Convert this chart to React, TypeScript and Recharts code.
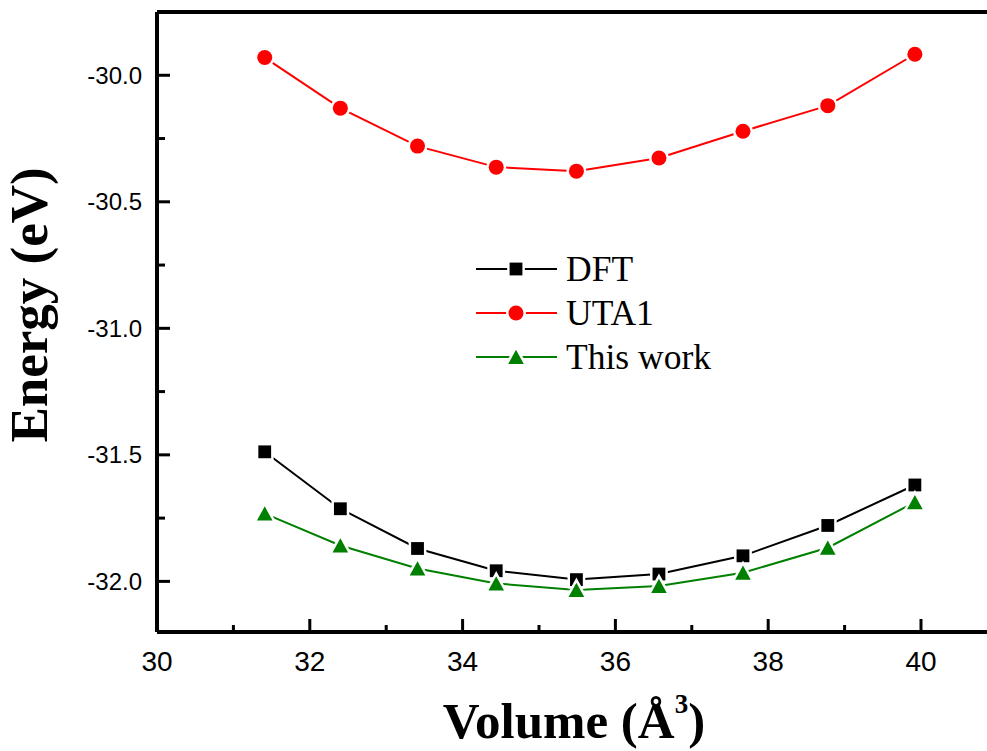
import React from "react"
import { LineChart, Line, XAxis, YAxis, ReferenceLine, Legend } from "recharts"

// volumes (Å^3) and energies (eV)
const volume = [31.41, 32.4, 33.41, 34.44, 35.49, 36.57, 37.67, 38.78, 39.92]
const dft = [-31.488, -31.713, -31.87, -31.958, -31.993, -31.971, -31.899, -31.779, -31.619]
const uta1 = [-29.93, -30.13, -30.28, -30.363, -30.379, -30.327, -30.221, -30.12, -29.917]
const thisWork = [-31.732, -31.858, -31.949, -32.008, -32.034, -32.018, -31.966, -31.867, -31.687]

const xTicks = [30, 31, 32, 33, 34, 35, 36, 37, 38, 39, 40]
const yTicks = [-32, -31.75, -31.5, -31.25, -31, -30.75, -30.5, -30.25, -30]

const seriesNames = ["DFT", "UTA1", "This work"]
const seriesColors = ["#000000", "#ff0000", "#008000"]
const seriesShapes = ["square", "circle", "triangle"]

const data = volume.map((v, i) => ({
  volume: v,
  dft: dft[i],
  uta1: uta1[i],
  thisWork: thisWork[i],
}))

const TICK_FONT = "'Liberation Sans', Arial, sans-serif"
const TITLE_FONT = "'Liberation Serif', 'Times New Roman', serif"

function Marker({ shape, cx, cy, color, halo = true }: any) {
  const haloProps = halo
    ? { stroke: "#fff", strokeWidth: 5, paintOrder: "stroke" as const }
    : {}
  if (shape === "square") {
    return <rect x={cx - 6.4} y={cy - 6.4} width={12.8} height={12.8} fill={color} {...haloProps} />
  }
  if (shape === "circle") {
    return <circle cx={cx} cy={cy} r={7.5} fill={color} {...haloProps} />
  }
  return (
    <path
      d={`M${cx},${cy - 7.2} L${cx + 7.8},${cy + 7} L${cx - 7.8},${cy + 7} Z`}
      fill={color}
      {...haloProps}
    />
  )
}

const makeDot = (shape: string, color: string) => (props: any) => {
  const { cx, cy, index } = props
  if (cx == null || cy == null) return <g key={index} />
  return (
    <g key={`d-${index}`}>
      <Marker shape={shape} cx={cx} cy={cy} color={color} />
    </g>
  )
}

function XTick(props: any) {
  const { x, y, payload } = props
  const v = payload.value
  const major = v % 2 === 0
  return (
    <g>
      <line x1={x} y1={y} x2={x} y2={y - (major ? 13 : 7)} stroke="#000" strokeWidth={3} />
      {major && (
        <text x={x} y={y + 29} textAnchor="middle" dominantBaseline="central"
          fontFamily={TICK_FONT} fontSize={28} fill="#000">
          {v}
        </text>
      )}
    </g>
  )
}

function YTick(props: any) {
  const { x, y, payload } = props
  const v = payload.value
  const major = Math.abs(v * 2 - Math.round(v * 2)) < 1e-6
  return (
    <g>
      <line x1={x} y1={y} x2={x + (major ? 13 : 8)} y2={y} stroke="#000" strokeWidth={3} />
      {major && (
        <text x={x - 15} y={y} textAnchor="end" dominantBaseline="central"
          fontFamily={TICK_FONT} fontSize={24} fill="#000">
          {v.toFixed(1)}
        </text>
      )}
    </g>
  )
}

function LegendBox() {
  return (
    <svg width={270} height={140}>
      {seriesNames.map((name, i) => {
        const cy = 24 + i * 44
        return (
          <g key={name}>
            <line x1={6} y1={cy} x2={87} y2={cy} stroke={seriesColors[i]} strokeWidth={2} />
            <Marker shape={seriesShapes[i]} cx={46} cy={cy} color={seriesColors[i]} />
            <text x={96} y={cy + 12} fontFamily={TITLE_FONT} fontSize={35.5} fill="#000">
              {name}
            </text>
          </g>
        )
      })}
    </svg>
  )
}

export default function App() {
  const keys = ["dft", "uta1", "thisWork"]
  return (
    <div style={{ position: "absolute", left: 0, top: 0, background: "#fff" }}>
      <LineChart width={987} height={751} data={data}
        margin={{ top: 12, right: 0, bottom: 0, left: 0 }}>
        <XAxis
          dataKey="volume"
          type="number"
          domain={[30, 40.864]}
          allowDataOverflow
          ticks={xTicks}
          interval={0}
          height={119}
          tickSize={0}
          tickMargin={0}
          tickLine={false}
          axisLine={{ stroke: "#000", strokeWidth: 4 }}
          tick={<XTick />}
          label={{
            content: () => (
              <text x={574} y={738} textAnchor="middle" fontFamily={TITLE_FONT}
                fontWeight="bold" fontSize={51} fill="#000">
                Volume (Å<tspan dy={-25} fontSize={27}>3</tspan>
                <tspan dy={25}>)</tspan>
              </text>
            ),
          }}
        />
        <YAxis
          type="number"
          domain={[-32.2, -29.75]}
          allowDataOverflow
          ticks={yTicks}
          interval={0}
          width={157}
          tickSize={0}
          tickMargin={0}
          tickLine={false}
          axisLine={{ stroke: "#000", strokeWidth: 4 }}
          tick={<YTick />}
          label={{
            content: () => (
              <text x={47} y={305} textAnchor="middle" transform="rotate(-90, 47, 305)"
                fontFamily={TITLE_FONT} fontWeight="bold" fontSize={53} fill="#000">
                Energy (eV)
              </text>
            ),
          }}
        />
        <ReferenceLine y={-29.75} stroke="#000" strokeWidth={4} />
        {keys.map((k, i) => (
          <Line
            key={k}
            dataKey={k}
            name={seriesNames[i]}
            type="linear"
            stroke={seriesColors[i]}
            strokeWidth={2}
            dot={makeDot(seriesShapes[i], seriesColors[i])}
            activeDot={false}
            isAnimationActive={false}
          />
        ))}
        <Legend
          layout="vertical"
          align="center"
          verticalAlign="middle"
          content={() => <LegendBox />}
          wrapperStyle={{ left: 470, top: 245, width: 270 }}
        />
      </LineChart>
    </div>
  )
}
